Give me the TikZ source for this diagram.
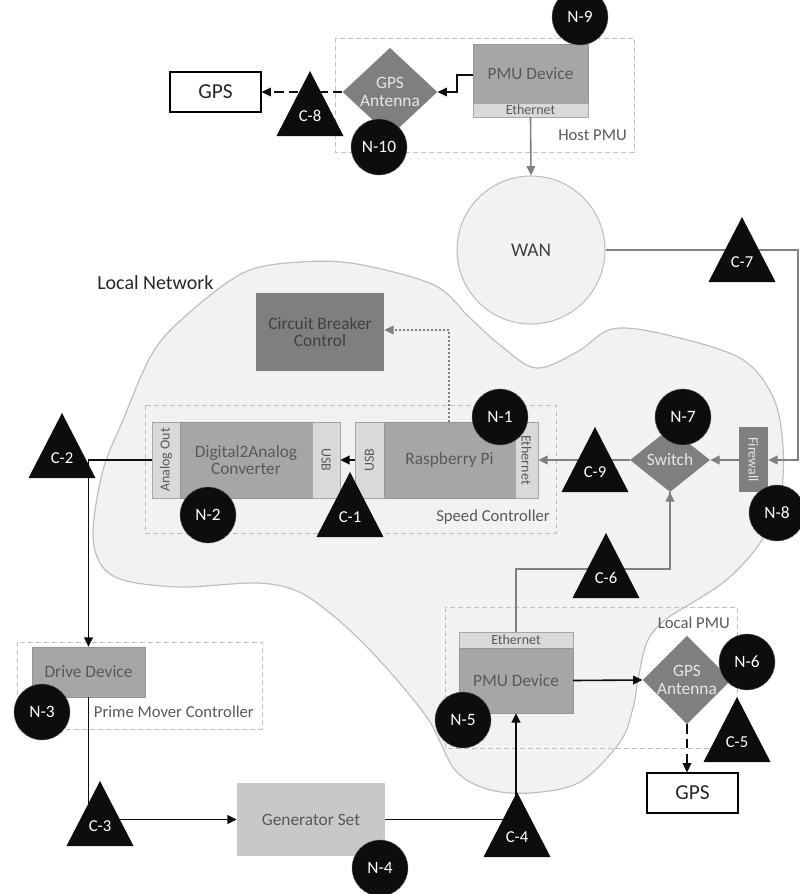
\documentclass[tikz,border=0pt]{standalone}
\usepackage{fontspec}
\setmainfont{Carlito}
\usetikzlibrary{arrows.meta,shapes.geometric,fit,calc}

\definecolor{inkdark}{HTML}{0D0D0D}
\definecolor{fillmid}{HTML}{A6A6A6}
\definecolor{fillstrip}{HTML}{D9D9D9}
\definecolor{filldark}{HTML}{7F7F7F}
\definecolor{filllight}{HTML}{C8C8C8}
\definecolor{blobfill}{HTML}{F2F2F2}
\definecolor{blobedge}{HTML}{BFBFBF}
\definecolor{txtgray}{HTML}{595959}
\definecolor{txtdark}{HTML}{404040}
\definecolor{txtlight}{HTML}{E6E6E6}
\definecolor{netline}{HTML}{808080}

\newcommand{\fs}[1]{\fontsize{#1}{#1}\selectfont}

\tikzset{
  tip/.style={-{Triangle[length=7pt,width=6.5pt]}},
  wire/.style={draw=inkdark, line width=1.2pt, tip},
  netwire/.style={draw=netline, line width=1.2pt, tip},
  plainnet/.style={draw=netline, line width=1.2pt},
  plainwire/.style={draw=inkdark, line width=1.2pt},
  group/.style={draw=blobedge, dash pattern=on 4pt off 2pt, line width=0.7pt},
  grouplabel/.style={text=txtgray, font=\fs{12.5}, anchor=east, inner sep=0},
  boxmid/.style={fill=fillmid, draw=fillmid!90!black, line width=0.3pt, inner sep=0, text=txtgray, font=\fs{13}, align=center},
  boxstrip/.style={fill=fillstrip, draw=fillmid, line width=0.3pt, inner sep=0, text=txtgray, font=\fs{10.5}},
  boxdark/.style={fill=filldark, inner sep=0, text=txtdark, font=\fs{13}, align=center},
  boxlight/.style={fill=filllight, inner sep=0, text=txtgray, font=\fs{13}},
  antenna/.style={diamond, fill=filldark, inner sep=0, text=txtlight, font=\fs{13}, align=center},
  gpsbox/.style={draw=black, line width=0.9pt, fill=white, inner sep=0, font=\fs{16}, text=black!85},
  ncirc/.style={circle, fill=inkdark, draw=black!60, line width=0.3pt, text=white, minimum size=42pt, inner sep=0, font=\fs{13}},
  ctri/.style={fill=inkdark},
  ctritext/.style={text=white, font=\fs{12.5}, inner sep=0},
}

% connection marker: apex x, apex y, node name, label
\newcommand{\conmark}[4]{%
  \fill[ctri] (#1,#2) -- ($(#1,#2)+(-33.5,65)$) -- ($(#1,#2)+(33.5,65)$) -- cycle;
  \node[ctritext] (#3) at ($(#1,#2)+(0,45)$) {#4};}

\begin{document}
\begin{tikzpicture}[x=0.75pt,y=-0.75pt]
\useasboundingbox (0,0) rectangle (800,894);

% ---------- local network area ----------
\path[fill=blobfill, draw=blobedge, line width=0.9pt]
  plot[smooth cycle, tension=0.55] coordinates {
    (123,420) (153,352) (190,312) (245,272) (300,262) (357,264) (434,285)
    (469,317) (500,345) (536,368) (577,352) (612,329) (663,334) (740,358)
    (773,397) (783,447) (780,500) (760,543) (730,577) (700,598) (665,620)
    (647,642) (638,680) (633,708) (620,742) (580,782) (530,793) (487,789)
    (455,770) (430,722) (397,680) (363,643) (330,613) (297,591) (257,583)
    (180,587) (123,580) (100,563) (93,530) (103,470)};
\node[text=black!85, font=\fs{15}, anchor=west, inner sep=0] (lnlabel) at (97,283) {Local Network};

% ---------- grouping frames ----------
\draw[group] (335,38) rectangle (634,152);
\node[grouplabel] (hostlbl) at (627,135) {Host PMU};
\draw[group] (145,405) rectangle (556,533);
\node[grouplabel] (speedlbl) at (550,517) {Speed Controller};
\draw[group] (17,642) rectangle (262,729);
\node[grouplabel] (primelbl) at (254,712) {Prime Mover Controller};
\draw[group] (445,607) rectangle (737,748);
\node[grouplabel] (localpmulbl) at (730,623) {Local PMU};

% ---------- host PMU ----------
\node[boxmid, fit={(473,44)(588,103)}] (hpmu) {};
\node[text=txtgray, font=\fs{13}] at (hpmu.center) {PMU Device};
\node[boxstrip, fit={(473,103)(588,117)}] (hpmueth) {};
\node[text=txtgray, font=\fs{10.5}, inner sep=0] at (hpmueth.center) {Ethernet};
\node[antenna, minimum width=71pt, minimum height=66pt] (hant) at (390,92) {GPS\\Antenna};
\node[gpsbox, fit={(170,72)(261,112)}] (hgps) {};
\node[font=\fs{16}, text=black!85] at (hgps.center) {GPS};

% ---------- WAN ----------
\node[circle, fill=blobfill, draw=blobedge, line width=0.8pt, minimum size=111pt,
      inner sep=0, text=txtdark, font=\fs{14.5}] (wan) at (531,250) {WAN};

% ---------- speed controller ----------
\node[boxdark, fit={(256,293)(384,371)}] (cbc) {};
\node[text=txtdark, font=\fs{13}, align=center] at (cbc.center) {Circuit Breaker\\Control};

\node[boxstrip, fit={(152,422)(180,498)}] (aout) {};
\node[text=txtgray, font=\fs{10.5}, rotate=90, inner sep=0] at (aout.center) {Analog Out};
\node[boxmid, fit={(180,422)(312,498)}] (dac) {};
\node[text=txtgray, font=\fs{13}, align=center] at (dac.center) {Digital2Analog\\Converter};
\node[boxstrip, fit={(312,422)(340,498)}] (dacusb) {};
\node[text=txtgray, font=\fs{10.5}, rotate=-90, inner sep=0] at (dacusb.center) {USB};

\node[boxstrip, fit={(355,422)(384,498)}] (rpiusb) {};
\node[text=txtgray, font=\fs{10.5}, rotate=90, inner sep=0] at (rpiusb.center) {USB};
\node[boxmid, fit={(384,422)(515,498)}] (rpi) {};
\node[text=txtgray, font=\fs{13}] at (rpi.center) {Raspberry Pi};
\node[boxstrip, fit={(515,422)(538,498)}] (rpieth) {};
\node[text=txtgray, font=\fs{10.5}, rotate=-90, inner sep=0] at (rpieth.center) {Ethernet};

% ---------- switch and firewall ----------
\node[antenna, minimum width=60pt, minimum height=48pt] (sw) at (670,460) {Switch};
\node[fill=filldark, inner sep=0, fit={(739,427)(768,492)}] (fw) {};
\node[text=txtlight, font=\fs{10.5}, rotate=-90, inner sep=0] at (fw.center) {Firewall};

% ---------- prime mover ----------
\node[boxmid, fit={(32,647)(145,697)}] (drive) {};
\node[text=txtgray, font=\fs{13}] at (drive.center) {Drive Device};
\node[boxlight, fit={(237,783)(385,856)}] (gen) {};
\node[text=txtgray, font=\fs{13}] at (gen.center) {Generator Set};

% ---------- local PMU ----------
\node[boxstrip, fit={(459,632)(573,648)}] (lpmueth) {};
\node[text=txtgray, font=\fs{10.5}, inner sep=0] at (lpmueth.center) {Ethernet};
\node[boxmid, fit={(459,648)(573,713)}] (lpmu) {};
\node[text=txtgray, font=\fs{13}] at (lpmu.center) {PMU Device};
\node[antenna, minimum width=65pt, minimum height=64pt] (lant) at (687,680) {GPS\\Antenna};
\node[gpsbox, fit={(647,773)(738,813)}] (lgps) {};
\node[font=\fs{16}, text=black!85] at (lgps.center) {GPS};

% ---------- connectors ----------
\draw[wire] (hpmu.west |- 0,75) -- (457,75) -- (457,92) -- (hant.east);
\draw[wire, dash pattern=on 7pt off 4pt] (hant.west) -- (hgps.east);
\draw[netwire] (hpmueth.south) -- (wan.north);
\coordinate (wanturn) at (798,250);
\coordinate (fwturn) at (798,460);
\draw[netwire] (wan.east) -- (wanturn) -- (fwturn) -- (fw.east |- fwturn);
\draw[netwire] (fw.west |- sw.east) -- (sw.east);
\draw[netwire] (sw.west) -- (rpieth.east |- sw.west);
\draw[wire] (rpiusb.west |- 0,460) -- (dacusb.east |- 0,460);
\draw[draw=netline, line width=1.1pt, dash pattern=on 1.5pt off 1.5pt, tip]
  (449,422) -- (449,330) -- (cbc.east |- 0,330);
\draw[wire] (aout.west |- 0,460) -| (drive.north);
\draw[wire] (drive.south) |- (gen.west);
\draw[wire] (gen.east) -| (lpmu.south);
\draw[wire] (lpmu.east) -- (lant.west);
\draw[wire, dash pattern=on 7pt off 4pt] (lant.south) -- (lgps.north -| lant.south);
\draw[plainnet] (lpmueth.north) -- ++(0,-63) -| (sw.south);
\draw[netwire] (670,500) -- (sw.south);

% ---------- connection markers ----------
\conmark{350}{472}{c1}{C-1}
\conmark{62}{413}{c2}{C-2}
\conmark{100}{781}{c3}{C-3}
\conmark{517}{792}{c4}{C-4}
\conmark{737}{697}{c5}{C-5}
\conmark{606}{533}{c6}{C-6}
\conmark{742}{217}{c7}{C-7}
\conmark{310}{71}{c8}{C-8}
\conmark{595}{427}{c9}{C-9}

% ---------- component tags ----------
\node[ncirc] (n1) at (500,417) {N-1};
\node[ncirc] (n2) at (208,515) {N-2};
\node[ncirc] (n3) at (42,712) {N-3};
\node[ncirc] (n4) at (380,868) {N-4};
\node[ncirc] (n5) at (463,720) {N-5};
\node[ncirc] (n6) at (747,662) {N-6};
\node[ncirc] (n7) at (683,417) {N-7};
\node[ncirc] (n8) at (777,513) {N-8};
\node[ncirc] (n9) at (580,17) {N-9};
\node[ncirc] (n10) at (379,147) {N-10};
\end{tikzpicture}
\end{document}
